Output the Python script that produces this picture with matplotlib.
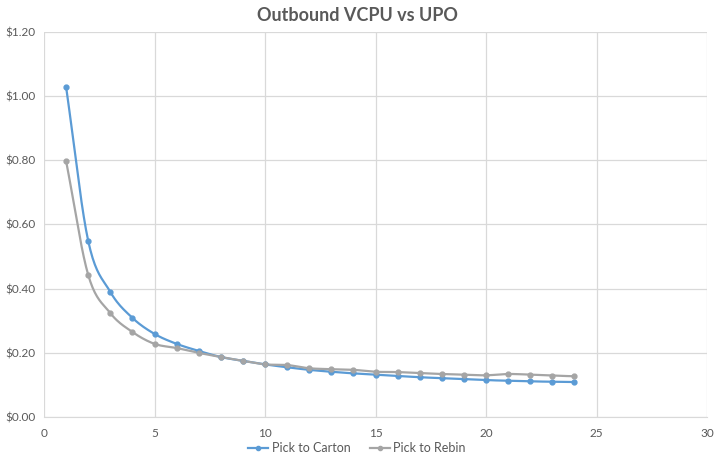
import numpy as np
import matplotlib
matplotlib.use("Agg")
import matplotlib.pyplot as plt

plt.rcParams['font.family'] = ['Lato', 'DejaVu Sans']

upo = list(range(1, 25))
carton = [1.029, 0.549, 0.390, 0.309, 0.259, 0.228, 0.206, 0.187, 0.175, 0.164,
          0.155, 0.147, 0.141, 0.136, 0.132, 0.128, 0.124, 0.121, 0.118, 0.115,
          0.113, 0.111, 0.110, 0.109]
rebin = [0.798, 0.443, 0.324, 0.265, 0.228, 0.215, 0.200, 0.187, 0.175, 0.164,
         0.162, 0.152, 0.149, 0.147, 0.141, 0.140, 0.137, 0.134, 0.132, 0.130,
         0.134, 0.132, 0.129, 0.127]


def smooth(x, y, n=20):
    # catmull-rom through the points, like excel's smoothed line
    x = np.asarray(x, float)
    y = np.asarray(y, float)
    px = np.concatenate([[2 * x[0] - x[1]], x, [2 * x[-1] - x[-2]]])
    py = np.concatenate([[2 * y[0] - y[1]], y, [2 * y[-1] - y[-2]]])
    xs, ys = [], []
    t = np.linspace(0, 1, n, endpoint=False)
    for i in range(1, len(px) - 2):
        for p, out in ((px, xs), (py, ys)):
            p0, p1, p2, p3 = p[i - 1], p[i], p[i + 1], p[i + 2]
            out.extend(0.5 * (2 * p1 + (-p0 + p2) * t
                              + (2 * p0 - 5 * p1 + 4 * p2 - p3) * t ** 2
                              + (-p0 + 3 * p1 - 3 * p2 + p3) * t ** 3))
    xs.append(x[-1])
    ys.append(y[-1])
    return xs, ys


fig = plt.figure(figsize=(7.14, 4.63), dpi=100)
ax = fig.add_axes([44 / 714, 1 - 417 / 463, 663 / 714, 385 / 463])

blue = '#5B9BD5'
grey = '#A5A5A5'
for ys, c, lab in [(carton, blue, 'Pick to Carton'), (rebin, grey, 'Pick to Rebin')]:
    sx, sy = smooth(upo, ys)
    ax.plot(sx, sy, color=c, lw=1.6, zorder=3)
    ax.plot(upo, ys, 'o', color=c, ms=3.5, zorder=4)
    ax.plot([], [], '-o', color=c, lw=1.6, ms=3, label=lab)

ax.set_xlim(0, 30)
ax.set_ylim(0, 1.2)
ax.set_xticks(range(0, 31, 5))
ax.set_yticks(np.arange(0, 1.21, 0.2))
ax.set_yticklabels(['$%.2f' % v for v in np.arange(0, 1.21, 0.2)])
ax.grid(True, color='#D9D9D9', lw=0.9)
ax.set_axisbelow(True)
for s in ['top', 'right', 'left']:
    ax.spines[s].set_visible(False)
ax.spines['bottom'].set_color('#D9D9D9')
ax.tick_params(length=0, colors='#595959', labelsize=8.5, pad=8)
ax.tick_params(axis='y', pad=6)

fig.suptitle('Outbound VCPU vs UPO', y=0.985, fontsize=13, color='#595959',
             fontweight='bold')
fig.legend(loc='lower center', ncol=2, frameon=False, fontsize=9,
           labelcolor='#595959', bbox_to_anchor=(0.5, -0.005),
           handlelength=1.6, handletextpad=0.3, columnspacing=1.5)

fig.savefig('out.png', dpi=100)
